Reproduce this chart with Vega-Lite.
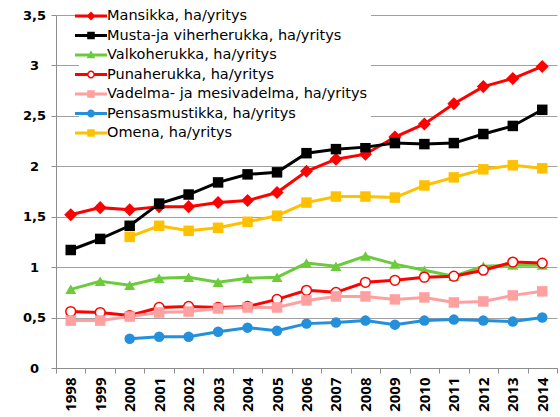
{
  "$schema": "https://vega.github.io/schema/vega-lite/v6.json",
  "width": 501,
  "height": 353,
  "autosize": "none",
  "padding": {"left": 56, "top": 15, "right": 3, "bottom": 49},
  "background": "white",
  "config": {
    "view": {"stroke": null},
    "axis": {"labelFontWeight": "bold", "labelColor": "black", "domainColor": "#8c8c8c", "tickColor": "#8c8c8c", "gridColor": "#a0a0a0", "domainWidth": 1, "tickWidth": 1, "gridWidth": 1, "title": null}
  },
  "data": {"values": [
    {"year": "1998", "s": "Mansikka, ha/yritys", "v": 1.52},
    {"year": "1999", "s": "Mansikka, ha/yritys", "v": 1.59},
    {"year": "2000", "s": "Mansikka, ha/yritys", "v": 1.57},
    {"year": "2001", "s": "Mansikka, ha/yritys", "v": 1.60},
    {"year": "2002", "s": "Mansikka, ha/yritys", "v": 1.60},
    {"year": "2003", "s": "Mansikka, ha/yritys", "v": 1.64},
    {"year": "2004", "s": "Mansikka, ha/yritys", "v": 1.66},
    {"year": "2005", "s": "Mansikka, ha/yritys", "v": 1.74},
    {"year": "2006", "s": "Mansikka, ha/yritys", "v": 1.95},
    {"year": "2007", "s": "Mansikka, ha/yritys", "v": 2.07},
    {"year": "2008", "s": "Mansikka, ha/yritys", "v": 2.12},
    {"year": "2009", "s": "Mansikka, ha/yritys", "v": 2.29},
    {"year": "2010", "s": "Mansikka, ha/yritys", "v": 2.42},
    {"year": "2011", "s": "Mansikka, ha/yritys", "v": 2.62},
    {"year": "2012", "s": "Mansikka, ha/yritys", "v": 2.79},
    {"year": "2013", "s": "Mansikka, ha/yritys", "v": 2.87},
    {"year": "2014", "s": "Mansikka, ha/yritys", "v": 2.99},
    {"year": "1998", "s": "Musta-ja viherherukka, ha/yritys", "v": 1.17},
    {"year": "1999", "s": "Musta-ja viherherukka, ha/yritys", "v": 1.28},
    {"year": "2000", "s": "Musta-ja viherherukka, ha/yritys", "v": 1.41},
    {"year": "2001", "s": "Musta-ja viherherukka, ha/yritys", "v": 1.63},
    {"year": "2002", "s": "Musta-ja viherherukka, ha/yritys", "v": 1.72},
    {"year": "2003", "s": "Musta-ja viherherukka, ha/yritys", "v": 1.84},
    {"year": "2004", "s": "Musta-ja viherherukka, ha/yritys", "v": 1.92},
    {"year": "2005", "s": "Musta-ja viherherukka, ha/yritys", "v": 1.94},
    {"year": "2006", "s": "Musta-ja viherherukka, ha/yritys", "v": 2.13},
    {"year": "2007", "s": "Musta-ja viherherukka, ha/yritys", "v": 2.17},
    {"year": "2008", "s": "Musta-ja viherherukka, ha/yritys", "v": 2.19},
    {"year": "2009", "s": "Musta-ja viherherukka, ha/yritys", "v": 2.23},
    {"year": "2010", "s": "Musta-ja viherherukka, ha/yritys", "v": 2.22},
    {"year": "2011", "s": "Musta-ja viherherukka, ha/yritys", "v": 2.23},
    {"year": "2012", "s": "Musta-ja viherherukka, ha/yritys", "v": 2.32},
    {"year": "2013", "s": "Musta-ja viherherukka, ha/yritys", "v": 2.40},
    {"year": "2014", "s": "Musta-ja viherherukka, ha/yritys", "v": 2.56},
    {"year": "1998", "s": "Valkoherukka, ha/yritys", "v": 0.78},
    {"year": "1999", "s": "Valkoherukka, ha/yritys", "v": 0.86},
    {"year": "2000", "s": "Valkoherukka, ha/yritys", "v": 0.82},
    {"year": "2001", "s": "Valkoherukka, ha/yritys", "v": 0.89},
    {"year": "2002", "s": "Valkoherukka, ha/yritys", "v": 0.90},
    {"year": "2003", "s": "Valkoherukka, ha/yritys", "v": 0.85},
    {"year": "2004", "s": "Valkoherukka, ha/yritys", "v": 0.89},
    {"year": "2005", "s": "Valkoherukka, ha/yritys", "v": 0.90},
    {"year": "2006", "s": "Valkoherukka, ha/yritys", "v": 1.04},
    {"year": "2007", "s": "Valkoherukka, ha/yritys", "v": 1.01},
    {"year": "2008", "s": "Valkoherukka, ha/yritys", "v": 1.11},
    {"year": "2009", "s": "Valkoherukka, ha/yritys", "v": 1.03},
    {"year": "2010", "s": "Valkoherukka, ha/yritys", "v": 0.97},
    {"year": "2011", "s": "Valkoherukka, ha/yritys", "v": 0.91},
    {"year": "2012", "s": "Valkoherukka, ha/yritys", "v": 1.01},
    {"year": "2013", "s": "Valkoherukka, ha/yritys", "v": 1.02},
    {"year": "2014", "s": "Valkoherukka, ha/yritys", "v": 1.02},
    {"year": "1998", "s": "Punaherukka, ha/yritys", "v": 0.56},
    {"year": "1999", "s": "Punaherukka, ha/yritys", "v": 0.55},
    {"year": "2000", "s": "Punaherukka, ha/yritys", "v": 0.52},
    {"year": "2001", "s": "Punaherukka, ha/yritys", "v": 0.60},
    {"year": "2002", "s": "Punaherukka, ha/yritys", "v": 0.61},
    {"year": "2003", "s": "Punaherukka, ha/yritys", "v": 0.60},
    {"year": "2004", "s": "Punaherukka, ha/yritys", "v": 0.61},
    {"year": "2005", "s": "Punaherukka, ha/yritys", "v": 0.68},
    {"year": "2006", "s": "Punaherukka, ha/yritys", "v": 0.77},
    {"year": "2007", "s": "Punaherukka, ha/yritys", "v": 0.75},
    {"year": "2008", "s": "Punaherukka, ha/yritys", "v": 0.85},
    {"year": "2009", "s": "Punaherukka, ha/yritys", "v": 0.87},
    {"year": "2010", "s": "Punaherukka, ha/yritys", "v": 0.90},
    {"year": "2011", "s": "Punaherukka, ha/yritys", "v": 0.91},
    {"year": "2012", "s": "Punaherukka, ha/yritys", "v": 0.97},
    {"year": "2013", "s": "Punaherukka, ha/yritys", "v": 1.05},
    {"year": "2014", "s": "Punaherukka, ha/yritys", "v": 1.04},
    {"year": "1998", "s": "Vadelma- ja mesivadelma, ha/yritys", "v": 0.47},
    {"year": "1999", "s": "Vadelma- ja mesivadelma, ha/yritys", "v": 0.47},
    {"year": "2000", "s": "Vadelma- ja mesivadelma, ha/yritys", "v": 0.51},
    {"year": "2001", "s": "Vadelma- ja mesivadelma, ha/yritys", "v": 0.55},
    {"year": "2002", "s": "Vadelma- ja mesivadelma, ha/yritys", "v": 0.56},
    {"year": "2003", "s": "Vadelma- ja mesivadelma, ha/yritys", "v": 0.59},
    {"year": "2004", "s": "Vadelma- ja mesivadelma, ha/yritys", "v": 0.60},
    {"year": "2005", "s": "Vadelma- ja mesivadelma, ha/yritys", "v": 0.60},
    {"year": "2006", "s": "Vadelma- ja mesivadelma, ha/yritys", "v": 0.67},
    {"year": "2007", "s": "Vadelma- ja mesivadelma, ha/yritys", "v": 0.71},
    {"year": "2008", "s": "Vadelma- ja mesivadelma, ha/yritys", "v": 0.71},
    {"year": "2009", "s": "Vadelma- ja mesivadelma, ha/yritys", "v": 0.68},
    {"year": "2010", "s": "Vadelma- ja mesivadelma, ha/yritys", "v": 0.70},
    {"year": "2011", "s": "Vadelma- ja mesivadelma, ha/yritys", "v": 0.65},
    {"year": "2012", "s": "Vadelma- ja mesivadelma, ha/yritys", "v": 0.66},
    {"year": "2013", "s": "Vadelma- ja mesivadelma, ha/yritys", "v": 0.72},
    {"year": "2014", "s": "Vadelma- ja mesivadelma, ha/yritys", "v": 0.76},
    {"year": "2000", "s": "Pensasmustikka, ha/yritys", "v": 0.29},
    {"year": "2001", "s": "Pensasmustikka, ha/yritys", "v": 0.31},
    {"year": "2002", "s": "Pensasmustikka, ha/yritys", "v": 0.31},
    {"year": "2003", "s": "Pensasmustikka, ha/yritys", "v": 0.36},
    {"year": "2004", "s": "Pensasmustikka, ha/yritys", "v": 0.40},
    {"year": "2005", "s": "Pensasmustikka, ha/yritys", "v": 0.37},
    {"year": "2006", "s": "Pensasmustikka, ha/yritys", "v": 0.44},
    {"year": "2007", "s": "Pensasmustikka, ha/yritys", "v": 0.45},
    {"year": "2008", "s": "Pensasmustikka, ha/yritys", "v": 0.47},
    {"year": "2009", "s": "Pensasmustikka, ha/yritys", "v": 0.43},
    {"year": "2010", "s": "Pensasmustikka, ha/yritys", "v": 0.47},
    {"year": "2011", "s": "Pensasmustikka, ha/yritys", "v": 0.48},
    {"year": "2012", "s": "Pensasmustikka, ha/yritys", "v": 0.47},
    {"year": "2013", "s": "Pensasmustikka, ha/yritys", "v": 0.46},
    {"year": "2014", "s": "Pensasmustikka, ha/yritys", "v": 0.50},
    {"year": "2000", "s": "Omena, ha/yritys", "v": 1.30},
    {"year": "2001", "s": "Omena, ha/yritys", "v": 1.41},
    {"year": "2002", "s": "Omena, ha/yritys", "v": 1.36},
    {"year": "2003", "s": "Omena, ha/yritys", "v": 1.39},
    {"year": "2004", "s": "Omena, ha/yritys", "v": 1.45},
    {"year": "2005", "s": "Omena, ha/yritys", "v": 1.51},
    {"year": "2006", "s": "Omena, ha/yritys", "v": 1.64},
    {"year": "2007", "s": "Omena, ha/yritys", "v": 1.70},
    {"year": "2008", "s": "Omena, ha/yritys", "v": 1.70},
    {"year": "2009", "s": "Omena, ha/yritys", "v": 1.69},
    {"year": "2010", "s": "Omena, ha/yritys", "v": 1.81},
    {"year": "2011", "s": "Omena, ha/yritys", "v": 1.89},
    {"year": "2012", "s": "Omena, ha/yritys", "v": 1.97},
    {"year": "2013", "s": "Omena, ha/yritys", "v": 2.01},
    {"year": "2014", "s": "Omena, ha/yritys", "v": 1.98}
  ]},
  "encoding": {
    "x": {"field": "year", "type": "ordinal", "scale": {"type": "band", "paddingInner": 0, "paddingOuter": 0},
      "axis": {"labelAngle": -90, "tickBand": "extent", "tickSize": 5, "labelPadding": 4, "grid": false, "labelFont": "Open Sans", "labelFontSize": 15}},
    "y": {"field": "v", "type": "quantitative", "scale": {"domain": [0, 3.5], "nice": false},
      "axis": {"values": [0, 0.5, 1, 1.5, 2, 2.5, 3, 3.5], "grid": true, "tickSize": 5, "labelPadding": 17, "labelAlign": "center", "labelFont": "DejaVu Sans", "labelFontSize": 13, "format": ".1~f", "labelExpr": "replace(datum.label, '.', ',')"}}
  },
  "layer": [
    {
      "mark": {"type": "line", "strokeWidth": 3},
      "encoding": {
        "color": {"field": "s", "type": "nominal",
          "scale": {"domain": ["Mansikka, ha/yritys", "Musta-ja viherherukka, ha/yritys", "Valkoherukka, ha/yritys", "Punaherukka, ha/yritys", "Vadelma- ja mesivadelma, ha/yritys", "Pensasmustikka, ha/yritys", "Omena, ha/yritys"],
            "range": ["#ff0000", "#000000", "#6ccb3c", "#ff0000", "#ffa0a0", "#2490db", "#ffc000"]},
          "legend": {"title": null, "orient": "none", "legendX": 23, "legendY": -11, "fillColor": "white", "padding": 3,
            "symbolSize": 324, "symbolStrokeWidth": 0, "labelFont": "DejaVu Sans", "labelFontSize": 14.5, "labelColor": "black", "labelFontWeight": "normal", "labelOffset": 7, "rowPadding": 3.5, "labelLimit": 400,
            "encode": {"symbols": {
              "update": {
                "shape": {"signal": "datum.value === 'Mansikka, ha/yritys' ? 'M-1.78,-0.167H1.78V0.167H-1.78Z M0,-0.5L0.5,0L0,0.5L-0.5,0Z' : (datum.value === 'Valkoherukka, ha/yritys' ? 'M-1.78,-0.167H1.78V0.167H-1.78Z M0,-0.52L0.48,0.36H-0.48Z' : (datum.value === 'Punaherukka, ha/yritys' ? 'M-1.78,-0.167H-0.42V0.167H-1.78Z M0.42,-0.167H1.78V0.167H0.42Z M-0.44,0A0.44,0.44 0 1,1 0.44,0A0.44,0.44 0 1,1 -0.44,0Z M-0.27,0A0.27,0.27 0 1,0 0.27,0A0.27,0.27 0 1,0 -0.27,0Z' : (datum.value === 'Pensasmustikka, ha/yritys' ? 'M-1.78,-0.167H1.78V0.167H-1.78Z M-0.44,0A0.44,0.44 0 1,1 0.44,0A0.44,0.44 0 1,1 -0.44,0Z' : 'M-1.78,-0.167H1.78V0.167H-1.78Z M-0.42,-0.42H0.42V0.42H-0.42Z')))"},
                "fill": {"signal": "scale('color', datum.value)"},
                "strokeWidth": {"value": 0},
                "opacity": {"value": 1},
                "size": {"value": 324}
              },
              "shape": {"value": {"expr": "datum.value === 'Mansikka, ha/yritys' ? 'M-1.78,-0.167H1.78V0.167H-1.78Z M0,-0.5L0.5,0L0,0.5L-0.5,0Z' : (datum.value === 'Valkoherukka, ha/yritys' ? 'M-1.78,-0.167H1.78V0.167H-1.78Z M0,-0.52L0.48,0.36H-0.48Z' : (datum.value === 'Punaherukka, ha/yritys' ? 'M-1.78,-0.167H-0.42V0.167H-1.78Z M0.42,-0.167H1.78V0.167H0.42Z M-0.44,0A0.44,0.44 0 1,1 0.44,0A0.44,0.44 0 1,1 -0.44,0Z M-0.27,0A0.27,0.27 0 1,0 0.27,0A0.27,0.27 0 1,0 -0.27,0Z' : (datum.value === 'Pensasmustikka, ha/yritys' ? 'M-1.78,-0.167H1.78V0.167H-1.78Z M-0.44,0A0.44,0.44 0 1,1 0.44,0A0.44,0.44 0 1,1 -0.44,0Z' : 'M-1.78,-0.167H1.78V0.167H-1.78Z M-0.42,-0.42H0.42V0.42H-0.42Z')))"}},
              "fill": {"value": {"expr": "scale('color', datum.value)"}},
              "strokeWidth": {"value": 0},
              "opacity": {"value": 1},
              "size": {"value": 324}
            }}}
        }
      }
    },
    {
      "transform": [{"filter": "datum.s === 'Mansikka, ha/yritys'"}],
      "mark": {"type": "point", "shape": "diamond", "filled": true, "fill": "#ff0000", "opacity": 1, "strokeWidth": 0, "size": 170}
    },
    {
      "transform": [{"filter": "datum.s === 'Musta-ja viherherukka, ha/yritys'"}],
      "mark": {"type": "point", "shape": "square", "filled": true, "fill": "#000000", "opacity": 1, "strokeWidth": 0, "size": 110}
    },
    {
      "transform": [{"filter": "datum.s === 'Valkoherukka, ha/yritys'"}],
      "mark": {"type": "point", "shape": "triangle-up", "filled": true, "fill": "#6ccb3c", "opacity": 1, "strokeWidth": 0, "size": 120}
    },
    {
      "transform": [{"filter": "datum.s === 'Punaherukka, ha/yritys'"}],
      "mark": {"type": "point", "shape": "circle", "filled": true, "fill": "white", "stroke": "#ff0000", "strokeWidth": 1.5, "opacity": 1, "size": 95}
    },
    {
      "transform": [{"filter": "datum.s === 'Vadelma- ja mesivadelma, ha/yritys'"}],
      "mark": {"type": "point", "shape": "square", "filled": true, "fill": "#ffa0a0", "opacity": 1, "strokeWidth": 0, "size": 110}
    },
    {
      "transform": [{"filter": "datum.s === 'Pensasmustikka, ha/yritys'"}],
      "mark": {"type": "point", "shape": "circle", "filled": true, "fill": "#2490db", "opacity": 1, "strokeWidth": 0, "size": 110}
    },
    {
      "transform": [{"filter": "datum.s === 'Omena, ha/yritys'"}],
      "mark": {"type": "point", "shape": "square", "filled": true, "fill": "#ffc000", "opacity": 1, "strokeWidth": 0, "size": 110}
    }
  ]
}
